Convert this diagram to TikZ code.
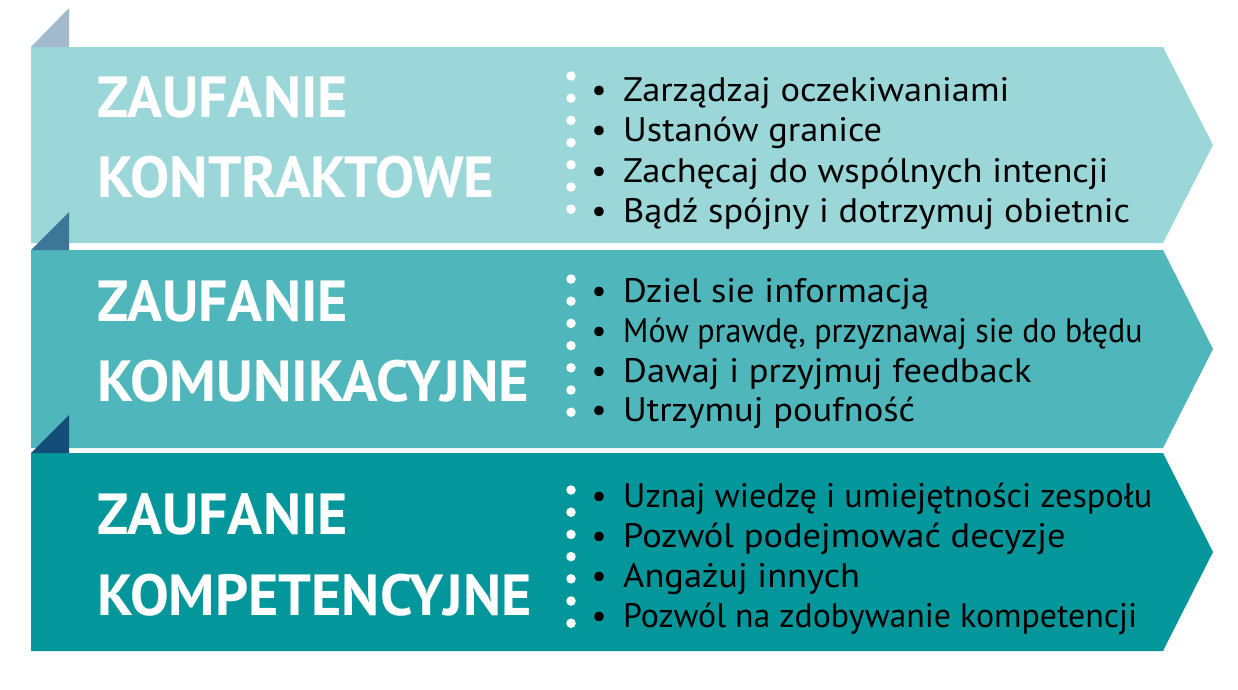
\documentclass[tikz,border=0pt]{standalone}
\usepackage{fontspec}
\setmainfont{PT Sans}
\begin{document}
\begin{tikzpicture}[x=1pt,y=-1pt,
  head/.style={anchor=base west, inner sep=0pt, text=white, font=\bfseries\fontsize{58}{58}\selectfont\addfontfeature{FakeStretch=#1}},
  head/.default=1.0,
  item/.style={anchor=base west, inner sep=0pt, text=black, font=\fontsize{34}{34}\selectfont\addfontfeature{FakeStretch=#1}},
  item/.default=1.072,
  bul/.style={anchor=base, inner sep=0pt, text=black, font=\fontsize{34}{34}\selectfont},
  wdot/.style={circle, fill=white, inner sep=0pt, minimum size=9.5pt}]
\definecolor{bandA}{HTML}{9BD6D9}
\definecolor{bandB}{HTML}{4FB6BB}
\definecolor{bandC}{HTML}{03979C}
\definecolor{foldA}{HTML}{A3BACD}
\definecolor{foldB}{HTML}{3E7697}
\definecolor{foldC}{HTML}{134E78}
\useasboundingbox (0,0) rectangle (1238,689);
% bands
\fill[bandA] (31,47) -- (1163,47) -- (1213,145) -- (1163,243) -- (31,243) -- cycle;
\fill[bandB] (31,250) -- (1163,250) -- (1213,349) -- (1163,448) -- (31,448) -- cycle;
\fill[bandC] (31,453) -- (1163,453) -- (1213,552) -- (1163,651) -- (31,651) -- cycle;
% folds
\fill[foldA] (31,47) -- (69,8) -- (69,47) -- cycle;
\fill[foldB] (31,250) -- (69,212) -- (69,250) -- cycle;
\fill[foldC] (31,453) -- (69,415) -- (69,453) -- cycle;
% headings
\node[head] (h1a) at (97,117) {ZAUFANIE};
\node[head=1.014] (h1b) at (97,197) {KONTRAKTOWE};
\node[head] (h2a) at (97,321) {ZAUFANIE};
\node[head=1.01] (h2b) at (97,401) {KOMUNIKACYJNE};
\node[head] (h3a) at (97,534) {ZAUFANIE};
\node[head] (h3b) at (97,615) {KOMPETENCYJNE};
% dots
\foreach \i in {0,...,6} {
  \node[wdot] (da\i) at (571,76+22.2*\i) {};
  \node[wdot] (db\i) at (571,279+22.2*\i) {};
  \node[wdot] (dc\i) at (571,490+22.2*\i) {};
}
% band 1 items
\node[bul] (b1a) at (599,101) {•};
\node[item] (t1a) at (623,101) {Zarządzaj oczekiwaniami};
\node[bul] (b1b) at (599,141.5) {•};
\node[item] (t1b) at (623,141.5) {Ustanów granice};
\node[bul] (b1c) at (599,182) {•};
\node[item] (t1c) at (623,182) {Zachęcaj do wspólnych intencji};
\node[bul] (b1d) at (599,222) {•};
\node[item] (t1d) at (623,222) {Bądź spójny i dotrzymuj obietnic};
% band 2 items
\node[bul] (b2a) at (599,302) {•};
\node[item] (t2a) at (623,302) {Dziel sie informacją};
\node[bul] (b2b) at (599,342) {•};
\node[item=0.942] (t2b) at (623,342) {Mów prawdę, przyznawaj sie do błędu};
\node[bul] (b2c) at (599,382) {•};
\node[item] (t2c) at (623,382) {Dawaj i przyjmuj feedback};
\node[bul] (b2d) at (599,421) {•};
\node[item] (t2d) at (623,421) {Utrzymuj poufność};
% band 3 items
\node[bul] (b3a) at (599,507) {•};
\node[item=1.006] (t3a) at (623,507) {Uznaj wiedzę i umiejętności zespołu};
\node[bul] (b3b) at (599,547) {•};
\node[item] (t3b) at (623,547) {Pozwól podejmować decyzje};
\node[bul] (b3c) at (599,587) {•};
\node[item] (t3c) at (623,587) {Angażuj innych};
\node[bul] (b3d) at (599,627) {•};
\node[item=0.995] (t3d) at (623,627) {Pozwól na zdobywanie kompetencji};
\end{tikzpicture}
\end{document}
